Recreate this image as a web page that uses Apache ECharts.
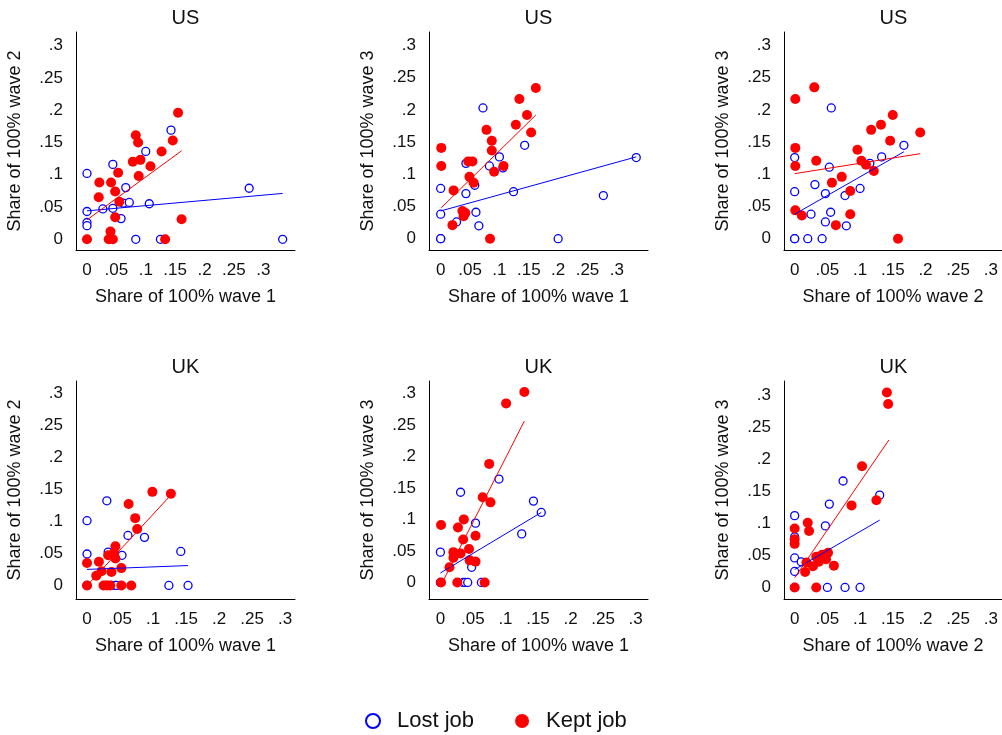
<!DOCTYPE html>
<html>
<head>
<meta charset="utf-8">
<script src="https://cdn.jsdelivr.net/npm/echarts@6/dist/echarts.min.js"></script>
<style>
  html, body { margin: 0; padding: 0; background: #fff; }
  #chart { width: 1002px; height: 735px; }
</style>
</head>
<body>
<div id="chart"></div>
<script>
// tick values and their printed labels (same on every axis)
const tickValues = [0, 0.05, 0.1, 0.15, 0.2, 0.25, 0.3];
const tickLabels = ["0", ".05", ".1", ".15", ".2", ".25", ".3"];

const panelTitles = ["US", "US", "US", "UK", "UK", "UK"];
const xNames = ["Share of 100% wave 1", "Share of 100% wave 1", "Share of 100% wave 2",
                "Share of 100% wave 1", "Share of 100% wave 1", "Share of 100% wave 2"];
const yNames = ["Share of 100% wave 2", "Share of 100% wave 3", "Share of 100% wave 3",
                "Share of 100% wave 2", "Share of 100% wave 3", "Share of 100% wave 3"];

// US, wave 1 vs wave 2
const usW1W2Lost = [[0,0.102],[0,0.043],[0,0.026],[0,0.021],[0.027,0.047],[0.044,0.116],[0.044,0.048],
  [0.058,0.032],[0.062,0.056],[0.066,0.080],[0.072,0.057],[0.083,0],[0.100,0.136],[0.106,0.055],
  [0.125,0],[0.143,0.169],[0.276,0.079],[0.333,0]];
const usW1W2Kept = [[0,0],[0.021,0.088],[0.020,0.065],[0.041,0.088],[0.040,0.012],[0.037,0],[0.044,0],
  [0.048,0.074],[0.048,0.034],[0.053,0.103],[0.055,0.058],[0.078,0.120],[0.083,0.161],[0.087,0.150],
  [0.091,0.123],[0.088,0.098],[0.108,0.113],[0.127,0.136],[0.133,0],[0.146,0.153],[0.155,0.196],[0.161,0.031]];
const usW1W2LostFit = [[0,0.044],[0.333,0.071]];
const usW1W2KeptFit = [[0,0.030],[0.161,0.137]];

// US, wave 1 vs wave 3
const usW1W3Lost = [[0,0],[0,0],[0,0.038],[0,0.078],[0.027,0.026],[0.043,0.117],[0.043,0.070],
  [0.058,0.083],[0.060,0.041],[0.065,0.020],[0.072,0.203],[0.083,0.113],[0.100,0.127],[0.106,0.110],
  [0.124,0.073],[0.143,0.145],[0.200,0],[0.277,0.067],[0.333,0.126]];
const usW1W3Kept = [[0.001,0.141],[0.001,0.113],[0.022,0.075],[0.020,0.021],[0.037,0.043],[0.039,0.035],
  [0.042,0.040],[0.047,0.120],[0.054,0.120],[0.049,0.096],[0.056,0.087],[0.078,0.169],[0.087,0.152],
  [0.087,0.137],[0.091,0.104],[0.084,0],[0.107,0.113],[0.128,0.177],[0.134,0.217],[0.147,0.192],
  [0.154,0.165],[0.162,0.234]];
const usW1W3LostFit = [[0,0.043],[0.333,0.127]];
const usW1W3KeptFit = [[0.001,0.048],[0.162,0.192]];

// US, wave 2 vs wave 3
const usW2W3Lost = [[0,0],[0,0],[0,0.126],[0,0.073],[0.020,0],[0.025,0.038],[0.031,0.084],[0.042,0],
  [0.047,0.070],[0.047,0.026],[0.053,0.111],[0.056,0.203],[0.055,0.041],[0.077,0.067],[0.079,0.020],
  [0.100,0.078],[0.115,0.117],[0.133,0.127],[0.167,0.145]];
const usW2W3Kept = [[0.001,0.217],[0.001,0.141],[0.001,0.113],[0.001,0.044],[0.011,0.036],[0.030,0.235],
  [0.033,0.121],[0.057,0.087],[0.063,0.021],[0.072,0.096],[0.085,0.074],[0.085,0.038],[0.096,0.138],
  [0.102,0.121],[0.109,0.115],[0.117,0.169],[0.121,0.105],[0.132,0.177],[0.146,0.152],[0.150,0.192],
  [0.158,0],[0.192,0.165]];
const usW2W3LostFit = [[0,0.038],[0.167,0.135]];
const usW2W3KeptFit = [[0,0.101],[0.192,0.132]];

// UK, wave 1 vs wave 2
const ukW1W2Lost = [[0,0.101],[0,0.049],[0,0],[0.030,0.132],[0.032,0.052],[0.030,0],[0.037,0],[0.043,0],
  [0.045,0],[0.053,0.047],[0.062,0.078],[0.087,0.075],[0.124,0],[0.142,0.053],[0.153,0]];
const ukW1W2Kept = [[0,0],[0,0.035],[0.014,0.015],[0.018,0.037],[0.022,0.022],[0.025,0],[0.030,0],[0.035,0],
  [0.032,0.047],[0.037,0.021],[0.043,0.061],[0.043,0.042],[0.041,0.051],[0.052,0.027],[0.052,0],[0.067,0],
  [0.063,0.127],[0.073,0.105],[0.076,0.088],[0.099,0.146],[0.127,0.143]];
const ukW1W2LostFit = [[0,0.025],[0.153,0.031]];
const ukW1W2KeptFit = [[0.002,0.002],[0.127,0.141]];

// UK, wave 1 vs wave 3
const ukW1W3Lost = [[0,0],[0,0.048],[0.031,0.143],[0.035,0],[0.038,0],[0.042,0],[0.048,0.024],[0.054,0.094],
  [0.063,0],[0.090,0.164],[0.125,0.077],[0.143,0.129],[0.155,0.111]];
const ukW1W3Kept = [[0.001,0],[0.001,0.091],[0.014,0.024],[0.020,0.048],[0.020,0.039],[0.026,0],[0.027,0.087],
  [0.031,0.046],[0.035,0.068],[0.036,0.100],[0.044,0.053],[0.045,0.035],[0.054,0.033],[0.054,0.074],
  [0.065,0.135],[0.068,0],[0.075,0.188],[0.077,0.127],[0.101,0.284],[0.129,0.302]];
const ukW1W3LostFit = [[0,0.015],[0.155,0.111]];
const ukW1W3KeptFit = [[0.003,0],[0.129,0.256]];

// UK, wave 2 vs wave 3
const ukW2W3Lost = [[0,0],[0,0.112],[0,0.079],[0,0.046],[0,0.025],[0.010,0.040],[0.047,0.096],[0.050,0],
  [0.053,0.130],[0.074,0.166],[0.077,0],[0.100,0],[0.130,0.144]];
const ukW2W3Kept = [[0,0],[0,0.092],[0,0.075],[0,0.068],[0.016,0.024],[0.018,0.039],[0.020,0.101],[0.022,0.088],
  [0.028,0.033],[0.033,0],[0.033,0.048],[0.037,0.040],[0.042,0.051],[0.047,0.051],[0.051,0.054],[0.048,0.044],
  [0.060,0.034],[0.087,0.128],[0.103,0.189],[0.125,0.136],[0.141,0.304],[0.143,0.286]];
const ukW2W3LostFit = [[0,0.028],[0.130,0.105]];
const ukW2W3KeptFit = [[0,0.015],[0.144,0.230]];

const lostSets = [usW1W2Lost, usW1W3Lost, usW2W3Lost, ukW1W2Lost, ukW1W3Lost, ukW2W3Lost];
const keptSets = [usW1W2Kept, usW1W3Kept, usW2W3Kept, ukW1W2Kept, ukW1W3Kept, ukW2W3Kept];
const lostFits = [usW1W2LostFit, usW1W3LostFit, usW2W3LostFit, ukW1W2LostFit, ukW1W3LostFit, ukW2W3LostFit];
const keptFits = [usW1W2KeptFit, usW1W3KeptFit, usW2W3KeptFit, ukW1W2KeptFit, ukW1W3KeptFit, ukW2W3KeptFit];

// layout of the 6 plot regions (pixels) and their axis extents
const layout = [
  { left: 76,  top: 32,  width: 219, x: [-0.0187, 0.354], y: [-0.0166, 0.321] },
  { left: 429, top: 32,  width: 219, x: [-0.0199, 0.353], y: [-0.0176, 0.321] },
  { left: 784, top: 32,  width: 218, x: [-0.0163, 0.317], y: [-0.0176, 0.321] },
  { left: 76,  top: 381, width: 219, x: [-0.0167, 0.315], y: [-0.0212, 0.319] },
  { left: 429, top: 381, width: 219, x: [-0.0175, 0.319], y: [-0.0263, 0.3195] },
  { left: 784, top: 381, width: 218, x: [-0.0163, 0.317], y: [-0.0180, 0.322] }
];
const plotHeight = 218;

const FONT = "'Liberation Sans', Arial, Helvetica, sans-serif";
const BLUE = "#0000ff";
const RED = "#ff0000";
const INK = "#111";

const tickFormatter = (v) => {
  const i = tickValues.findIndex((t) => Math.abs(t - v) < 1e-9);
  return i >= 0 ? tickLabels[i] : "";
};

const chart = echarts.init(document.getElementById("chart"), null, { renderer: "canvas" });

const grids = [];
const xAxes = [];
const yAxes = [];
const titles = [];
const series = [];

layout.forEach((p, i) => {
  grids.push({ left: p.left, top: p.top, width: p.width, height: plotHeight, containLabel: false });
  titles.push({
    text: panelTitles[i],
    left: p.left + 109.5,
    top: p.top - 24,
    textAlign: "center",
    padding: 0,
    textStyle: { fontFamily: FONT, fontSize: 20, fontWeight: "normal", color: INK }
  });
  xAxes.push({
    type: "value",
    gridIndex: i,
    min: p.x[0],
    max: p.x[1],
    name: xNames[i],
    nameLocation: "middle",
    nameGap: 38,
    nameTextStyle: { fontFamily: FONT, fontSize: 18, color: INK },
    axisLine: { show: true, onZero: false, lineStyle: { color: "#000", width: 1 } },
    axisTick: { show: false },
    splitLine: { show: false },
    axisLabel: {
      customValues: tickValues,
      formatter: tickFormatter,
      margin: 12,
      fontFamily: FONT,
      fontSize: 17,
      color: INK
    }
  });
  yAxes.push({
    type: "value",
    gridIndex: i,
    min: p.y[0],
    max: p.y[1],
    name: yNames[i],
    nameLocation: "middle",
    nameGap: 52,
    nameTextStyle: { fontFamily: FONT, fontSize: 18, color: INK },
    axisLine: { show: true, onZero: false, lineStyle: { color: "#000", width: 1 } },
    axisTick: { show: false },
    splitLine: { show: false },
    axisLabel: {
      customValues: tickValues,
      formatter: tickFormatter,
      margin: 13,
      fontFamily: FONT,
      fontSize: 17,
      color: INK
    }
  });

  series.push({
    name: "Lost job",
    type: "scatter",
    xAxisIndex: i,
    yAxisIndex: i,
    symbol: "circle",
    symbolSize: 8,
    itemStyle: { color: "#ffffff", borderColor: BLUE, borderWidth: 1.3, opacity: 1 },
    emphasis: { disabled: true },
    data: lostSets[i],
    z: 2
  });
  series.push({
    name: "Kept job",
    type: "scatter",
    xAxisIndex: i,
    yAxisIndex: i,
    symbol: "circle",
    symbolSize: 10,
    itemStyle: { color: RED, opacity: 1 },
    emphasis: { disabled: true },
    data: keptSets[i],
    z: 3
  });
  series.push({
    name: "Lost fit " + i,
    type: "line",
    xAxisIndex: i,
    yAxisIndex: i,
    showSymbol: false,
    symbol: "none",
    lineStyle: { color: BLUE, width: 1 },
    data: lostFits[i],
    z: 4
  });
  series.push({
    name: "Kept fit " + i,
    type: "line",
    xAxisIndex: i,
    yAxisIndex: i,
    showSymbol: false,
    symbol: "none",
    lineStyle: { color: RED, width: 1 },
    data: keptFits[i],
    z: 4
  });
});

chart.setOption({
  animation: false,
  backgroundColor: "#ffffff",
  title: titles,
  grid: grids,
  xAxis: xAxes,
  yAxis: yAxes,
  legend: {
    data: ["Lost job", "Kept job"],
    left: 360,
    top: 705,
    orient: "horizontal",
    itemWidth: 38,
    itemHeight: 14,
    itemGap: 41,
    selectedMode: false,
    textStyle: { fontFamily: FONT, fontSize: 22, color: INK }
  },
  series
});
</script>
</body>
</html>
